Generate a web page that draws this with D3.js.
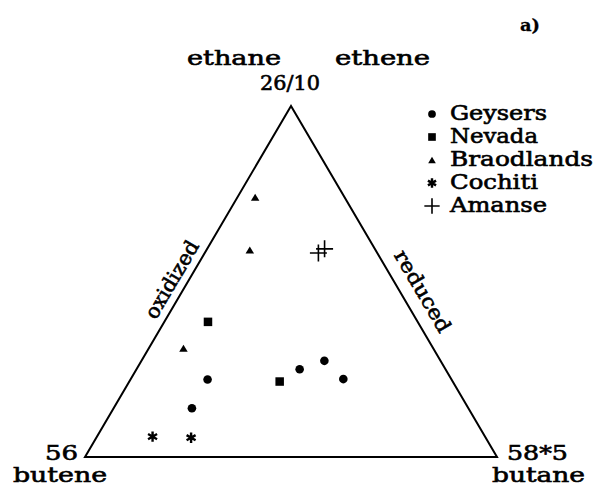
<!DOCTYPE html>
<html><head><meta charset="utf-8">
<script src="https://cdn.jsdelivr.net/npm/d3@7"></script>
<style>body{margin:0;background:#fff}svg{display:block}</style>
</head><body><svg id="c" width="593" height="487"></svg>
<script>
// ---- data (composition in %: [ethane/ethene (top), butene (left), butane (right)]) ----
const sites = ["Geysers", "Nevada", "Braodlands", "Cochiti", "Amanse"];
const markerTypes = ["circle", "square", "triangle", "asterisk", "plus"];
const geysers = [[22.1,59.2,18.7],[13.9,67.1,19.0],[25.0,35.4,39.6],[27.4,28.2,44.4],[22.2,26.2,51.6]];
const nevada = [[38.5,50.9,10.6],[21.5,42.0,36.5]];
const braodlands = [[74.0,21.7,4.3],[59.0,30.5,10.5],[31.0,60.6,8.4]];
const cochiti = [[5.8,80.7,13.5],[5.5,71.5,23.0]];
const amanse = [[58.1,14.3,27.6],[59.3,12.2,28.5]];
const seriesData = [geysers, nevada, braodlands, cochiti, amanse];
const topLabels = ["ethane", "ethene"];
const topValue = "26/10";
const leftLabels = ["56", "butene"];
const rightLabels = ["58*5", "butane"];
const edgeLabels = ["oxidized", "reduced"];
const panelLabel = "a)";

// ---- drawing ----
const svg = d3.select("#c");
const FONT = "'DejaVu Serif', serif";
const x = d3.scaleLinear().domain([0, 1]).range([85, 497]);
const y = d3.scaleLinear().domain([0, 1]).range([457, 106]);
function project(c) {
  const s = c[0] + c[1] + c[2];
  const t = c[0] / s, r = c[2] / s;
  return [x(r + t * 0.5), y(t)];
}
const T = project([100, 0, 0]), L = project([0, 100, 0]), R = project([0, 0, 100]);

svg.append("path")
  .attr("d", d3.line()([T, L, R]) + "Z")
  .attr("fill", "none").attr("stroke", "#000").attr("stroke-width", 2)
  .attr("stroke-linejoin", "miter");

function txt(s, px, py, len, opts = {}) {
  const e = svg.append("text").text(s)
    .attr("x", px).attr("y", py)
    .attr("font-family", FONT).attr("font-size", opts.size || 20)
    .attr("font-weight", opts.weight || "normal")
    .attr("fill", "#000").attr("stroke", "#000").attr("stroke-width", opts.sw == null ? 0.6 : opts.sw);
  if (len) e.attr("textLength", len).attr("lengthAdjust", "spacingAndGlyphs");
  if (opts.anchor) e.attr("text-anchor", opts.anchor);
  return e;
}

// vertex labels
txt(topLabels[0], 187, 65, 94);
txt(topLabels[1], 335, 65, 95);
txt(topValue, 260, 90, 60);
txt(leftLabels[0], 45, 460, 33);
txt(leftLabels[1], 13, 482, 94);
txt(rightLabels[0], 507, 460, 61);
txt(rightLabels[1], 492, 482, 93);
txt(panelLabel, 520, 31, 20, {size: 17, weight: "bold", sw: 0.3});

// edge labels
function edgeLabel(s, A, B, f, d, len) {
  const ang = Math.atan2(B[1] - A[1], B[0] - A[0]);
  const deg = ang * 180 / Math.PI;
  const px = A[0] + f * (B[0] - A[0]) + d * Math.sin(ang);
  const py = A[1] + f * (B[1] - A[1]) - d * Math.cos(ang);
  txt(s, 0, 0, len, {anchor: "middle"})
    .attr("transform", `translate(${px},${py}) rotate(${deg})`);
}
edgeLabel(edgeLabels[0], L, T, 0.484, 8, 87);
edgeLabel(edgeLabels[1], T, R, 0.556, 13, 92);

// marker drawing
function marker(g, type, cx, cy, k) {
  if (type === "circle") {
    g.append("circle").attr("cx", cx).attr("cy", cy).attr("r", 4.3 * k).attr("fill", "#000");
  } else if (type === "square") {
    const s = 8.5 * k;
    g.append("rect").attr("x", cx - s / 2).attr("y", cy - s / 2).attr("width", s).attr("height", s).attr("fill", "#000");
  } else if (type === "triangle") {
    const w = 8.5 * k, h = 7 * k;
    g.append("path").attr("d", d3.line()([[cx - w / 2, cy + h / 2], [cx + w / 2, cy + h / 2], [cx, cy - h / 2]]) + "Z").attr("fill", "#000");
  } else if (type === "asterisk") {
    const r = 5.2 * k, p = d3.path();
    for (let i = 0; i < 3; i++) {
      const a = Math.PI / 2 + i * Math.PI / 3;
      p.moveTo(cx - r * Math.cos(a), cy - r * Math.sin(a));
      p.lineTo(cx + r * Math.cos(a), cy + r * Math.sin(a));
    }
    g.append("path").attr("d", p.toString()).attr("stroke", "#000").attr("stroke-width", 2.4).attr("fill", "none");
  } else if (type === "plus") {
    const r = 8.5 * k, p = d3.path();
    p.moveTo(cx - r, cy); p.lineTo(cx + r, cy);
    p.moveTo(cx, cy - r); p.lineTo(cx, cy + r);
    g.append("path").attr("d", p.toString()).attr("stroke", "#000").attr("stroke-width", 1.6).attr("fill", "none");
  }
}

const gPts = svg.append("g");
seriesData.forEach((arr, i) => {
  arr.forEach(c => {
    const [px, py] = project(c);
    marker(gPts, markerTypes[i], px, py, 1);
  });
});

// legend
const gLeg = svg.append("g");
const legendWidths = [97, 88, 143, 88, 97];
sites.forEach((s, i) => {
  const cy = 114 + i * 23;
  marker(gLeg, markerTypes[i], 432, cy, 0.9);
  txt(s, 450, cy + 6, legendWidths[i]);
});
</script>
</body></html>
